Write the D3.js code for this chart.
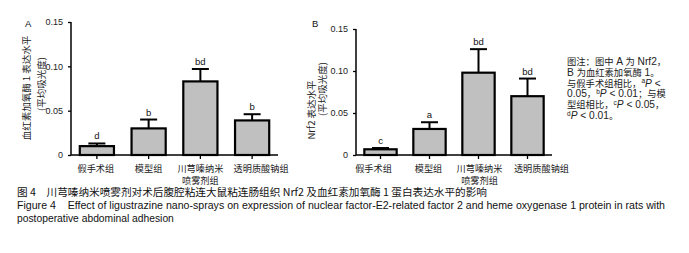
<!DOCTYPE html>
<html>
<head>
<meta charset="utf-8">
<script src="https://cdn.jsdelivr.net/npm/d3@7/dist/d3.min.js"></script>
<style>
  body { margin: 0; background: #fff; }
  svg { display: block; font-family: "Liberation Sans", Arial, "Noto Sans CJK SC", sans-serif; }
</style>
</head>
<body>
<svg id="chart" width="689" height="253"></svg>
<script>
// groups, shared by both panels
var categories = [["假手术组"], ["模型组"], ["川芎嗪纳米", "喷雾剂组"], ["透明质酸钠组"]];
var yTicks = [0, 0.05, 0.10, 0.15];
var yTickLabels = ["0", "0.05", "0.10", "0.15"];

// panel A: heme oxygenase 1
var hoMean = [0.010, 0.030, 0.083, 0.039];
var hoErr = [0.003, 0.010, 0.014, 0.007];
var hoSig = ["d", "b", "bd", "b"];

// panel B: Nrf2
var nrfMean = [0.0068, 0.031, 0.098, 0.070];
var nrfErr = [0.0015, 0.008, 0.028, 0.021];
var nrfSig = ["c", "a", "bd", "bd"];

var svg = d3.select("#chart");
var cjk = "\"Noto Sans CJK SC\", sans-serif";

// write a string into a text node, CJK runs a bit smaller than latin runs
var mixed = function(sel, str, cjkSize) {
    var parts = str.match(/[\u3000-\u9fff\uff00-\uffef]+|[^\u3000-\u9fff\uff00-\uffef]+/g);
    parts.forEach(function(p) {
        var ts = sel.append("tspan").text(p);
        if (/[\u3000-\u9fff\uff00-\uffef]/.test(p)) ts.attr("font-size", cjkSize).attr("font-family", cjk);
    });
};

var draw_panel = function(opt) {
    var x = d3.scaleBand()
        .domain(d3.range(categories.length))
        .range([opt.x0, opt.x1])
        .paddingInner(0.34)
        .paddingOuter(0.17);
    var y = d3.scaleLinear().domain([0, 0.15]).range([opt.y0, opt.y1]);
    var g = svg.append("g");

    // axes
    var yAxis = d3.axisLeft(y).tickValues(yTicks).tickSize(3).tickPadding(5)
        .tickFormat(function(d, i) { return yTickLabels[i]; });
    var ya = g.append("g").attr("transform", "translate(" + opt.x0 + ",0)").call(yAxis);
    ya.select(".domain").attr("stroke-width", 1.5).attr("d", "M0," + opt.y0 + "V" + opt.y1);
    ya.selectAll(".tick line").attr("stroke-width", 1.3);
    ya.selectAll(".tick text").attr("font-size", 9).attr("fill", "#222")
        .attr("font-family", "\"Liberation Sans\", Arial, sans-serif");

    var xa = g.append("g").attr("transform", "translate(0," + opt.y0 + ")");
    xa.append("line").attr("x1", opt.x0).attr("x2", opt.x1)
        .attr("stroke", "#000").attr("stroke-width", 1.5);
    xa.selectAll(".xt").data(categories).enter().append("line")
        .attr("x1", function(d, i) { return x(i) + x.bandwidth() / 2; })
        .attr("x2", function(d, i) { return x(i) + x.bandwidth() / 2; })
        .attr("y1", 0).attr("y2", 4)
        .attr("stroke", "#000").attr("stroke-width", 1.3);

    var lab = g.selectAll(".cat").data(categories).enter().append("text")
        .attr("text-anchor", "middle")
        .attr("font-size", 9.2)
        .attr("font-family", cjk)
        .attr("fill", "#222");
    lab.each(function(d, i) {
        var t = d3.select(this);
        d.forEach(function(line, k) {
            t.append("tspan")
                .attr("x", x(i) + x.bandwidth() / 2 + opt.labShift[i])
                .attr("y", opt.y0 + 17 + k * 11.5)
                .text(line);
        });
    });

    // bars
    g.selectAll(".bar").data(opt.mean).enter().append("rect")
        .attr("x", function(d, i) { return x(i); })
        .attr("y", function(d) { return y(d); })
        .attr("width", x.bandwidth())
        .attr("height", function(d) { return opt.y0 - y(d); })
        .attr("fill", "#c0c0c0")
        .attr("stroke", "#000")
        .attr("stroke-width", 2.2);

    // error bars
    opt.mean.forEach(function(m, i) {
        var cx = x(i) + x.bandwidth() / 2;
        var top = y(m + opt.err[i]);
        g.append("line").attr("x1", cx).attr("x2", cx)
            .attr("y1", y(m)).attr("y2", top)
            .attr("stroke", "#000").attr("stroke-width", 2);
        g.append("line").attr("x1", cx - 8.5).attr("x2", cx + 8.5)
            .attr("y1", top).attr("y2", top)
            .attr("stroke", "#000").attr("stroke-width", 2);
        g.append("text").attr("x", cx).attr("y", top - 4)
            .attr("text-anchor", "middle").attr("font-size", 9.5)
            .attr("fill", "#111")
            .text(opt.sig[i]);
    });

    // panel letter and y title
    g.append("text").attr("x", opt.letterX).attr("y", opt.letterY)
        .attr("font-size", 9.5).attr("fill", "#111").text(opt.letter);
    opt.ylab.forEach(function(l) {
        g.append("text")
            .attr("transform", "translate(" + l.x + "," + l.y + ") rotate(-90)")
            .attr("text-anchor", "middle")
            .attr("dominant-baseline", "central")
            .attr("font-size", 9.5)
            .attr("font-family", cjk)
            .attr("fill", "#222")
            .text(l.text);
    });
};

draw_panel({
    x0: 71, x1: 278, y0: 155, y1: 22,
    mean: hoMean, err: hoErr, sig: hoSig,
    labShift: [-1, 0, 0, 9],
    letter: "A", letterX: 25, letterY: 27,
    ylab: [{ x: 26, y: 88, text: "血红素加氧酶 1 表达水平" },
           { x: 41, y: 84, text: "(平均吸光度)" }]
});

draw_panel({
    x0: 356, x1: 552, y0: 155, y1: 29,
    mean: nrfMean, err: nrfErr, sig: nrfSig,
    labShift: [-7, -1, 1, 14],
    letter: "B", letterX: 312, letterY: 27,
    ylab: [{ x: 311, y: 110, text: "Nrf2 表达水平" },
           { x: 322, y: 89, text: "(平均吸光度)" }]
});

// figure note on the right
var noteLines = [
    [["图注：图中 A 为 Nrf2，"]],
    [["B 为血红素加氧酶 1。"]],
    [["与假手术组相比，"], ["a", "sup"], ["P", "it"], [" <"]],
    [["0.05，"], ["b", "sup"], ["P", "it"], [" < 0.01；与模"]],
    [["型组相比，"], ["c", "sup"], ["P", "it"], [" < 0.05，"]],
    [["d", "sup"], ["P", "it"], [" < 0.01。"]]
];
noteLines.forEach(function(line, k) {
    var t = svg.append("text").attr("x", 567).attr("y", 65 + k * 10.8)
        .attr("font-size", 10.2).attr("fill", "#222");
    line.forEach(function(part) {
        if (part[1] === "sup") {
            t.append("tspan").attr("font-size", 6.5).attr("dy", -3.5).text(part[0]);
        } else if (part[1] === "it") {
            t.append("tspan").attr("font-style", "italic").attr("dy", 3.5).text(part[0]);
        } else {
            mixed(t, part[0], 9.3);
        }
    });
});

// caption
svg.append("text").attr("x", 17).attr("y", 196)
    .attr("font-size", 10.5).attr("fill", "#111")
    .attr("font-family", "\"Noto Sans CJK SC\", sans-serif")
    .attr("textLength", 470).attr("lengthAdjust", "spacingAndGlyphs")
    .text("图 4　川芎嗪纳米喷雾剂对术后腹腔粘连大鼠粘连肠组织 Nrf2 及血红素加氧酶 1 蛋白表达水平的影响");
svg.append("text").attr("x", 17).attr("y", 209)
    .attr("font-size", 10.3).attr("fill", "#111")
    .attr("textLength", 648).attr("lengthAdjust", "spacingAndGlyphs")
    .attr("xml:space", "preserve")
    .text("Figure 4    Effect of ligustrazine nano-sprays on expression of nuclear factor-E2-related factor 2 and heme oxygenase 1 protein in rats with");
svg.append("text").attr("x", 17).attr("y", 221.5)
    .attr("font-size", 10.3).attr("fill", "#111")
    .text("postoperative abdominal adhesion");
</script>
</body>
</html>
